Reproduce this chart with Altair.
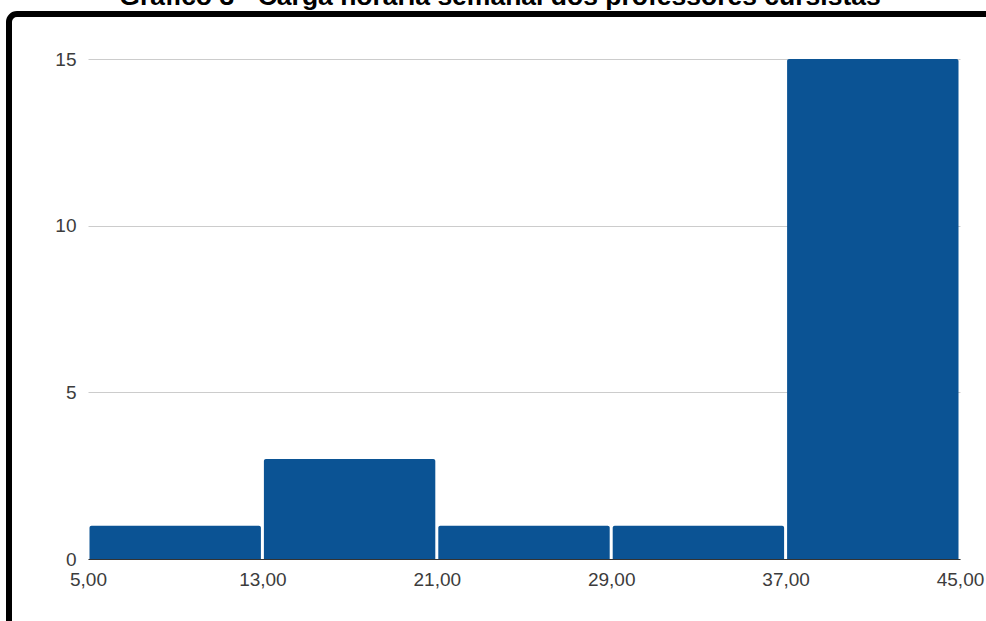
import altair as alt
import pandas as pd

# Histogram of weekly teaching hours (bins of 8 hours)
bin_start = [5, 13, 21, 29, 37]
bin_end = [13, 21, 29, 37, 45]
counts = [1, 3, 1, 1, 15]

x_ticks = [5, 13, 21, 29, 37, 45]
y_ticks = [0, 5, 10, 15]

title_text = "Gráfico 3 - Carga horária semanal dos professores cursistas"
bar_color = "#0b5394"
font = "Liberation Sans"

df = pd.DataFrame({"inicio": bin_start, "fim": bin_end, "n": counts})

x_scale = alt.Scale(domain=[5, 45], nice=False, zero=False)
y_scale = alt.Scale(domain=[0, 15], nice=False)

bars = alt.Chart(df).mark_rect(
    color=bar_color,
    xOffset=1.5,
    x2Offset=-1.5,
    cornerRadiusTopLeft=2,
    cornerRadiusTopRight=2,
).encode(
    x=alt.X(
        "inicio:Q",
        scale=x_scale,
        axis=alt.Axis(
            values=x_ticks,
            labelExpr="replace(format(datum.value, '.2f'), '.', ',')",
            grid=False,
            ticks=False,
            domain=True,
            domainColor="#333333",
            domainWidth=1,
            labelPadding=11,
            labelFontSize=19,
            labelFont=font,
            labelColor="#3c3c3c",
            labelFlush=False,
            labelOverlap=False,
            title=None,
        ),
    ),
    x2="fim:Q",
    y=alt.Y(
        "n:Q",
        scale=y_scale,
        axis=alt.Axis(
            values=y_ticks,
            grid=True,
            gridColor="#cccccc",
            gridWidth=1,
            ticks=False,
            domain=False,
            labelPadding=12,
            labelFontSize=19,
            labelFont=font,
            labelColor="#3c3c3c",
            title=None,
        ),
    ),
    y2=alt.datum(0),
)

# Frame drawn around the chart
frame = alt.Chart(alt.Data(values=[{}])).mark_rect(
    fill="transparent",
    stroke="black",
    strokeWidth=6,
    cornerRadius=8,
).encode(
    x=alt.value(-79),
    x2=alt.value(1100),
    y=alt.value(-45),
    y2=alt.value(700),
)

heading = alt.Chart(alt.Data(values=[{}])).mark_text(
    text=title_text,
    font=font,
    fontSize=26.5,
    fontWeight="bold",
    color="black",
    align="center",
    baseline="alphabetic",
).encode(
    x=alt.value(412),
    y=alt.value(-54),
)

chart = alt.layer(bars, frame, heading).properties(
    width=872,
    height=500,
    padding={"left": 88, "top": 59, "right": 26, "bottom": 62},
    autosize=alt.AutoSizeParams(type="none"),
    background="white",
).configure_view(stroke=None)

chart.save("out.html", embed_options={"renderer": "svg", "actions": False})
